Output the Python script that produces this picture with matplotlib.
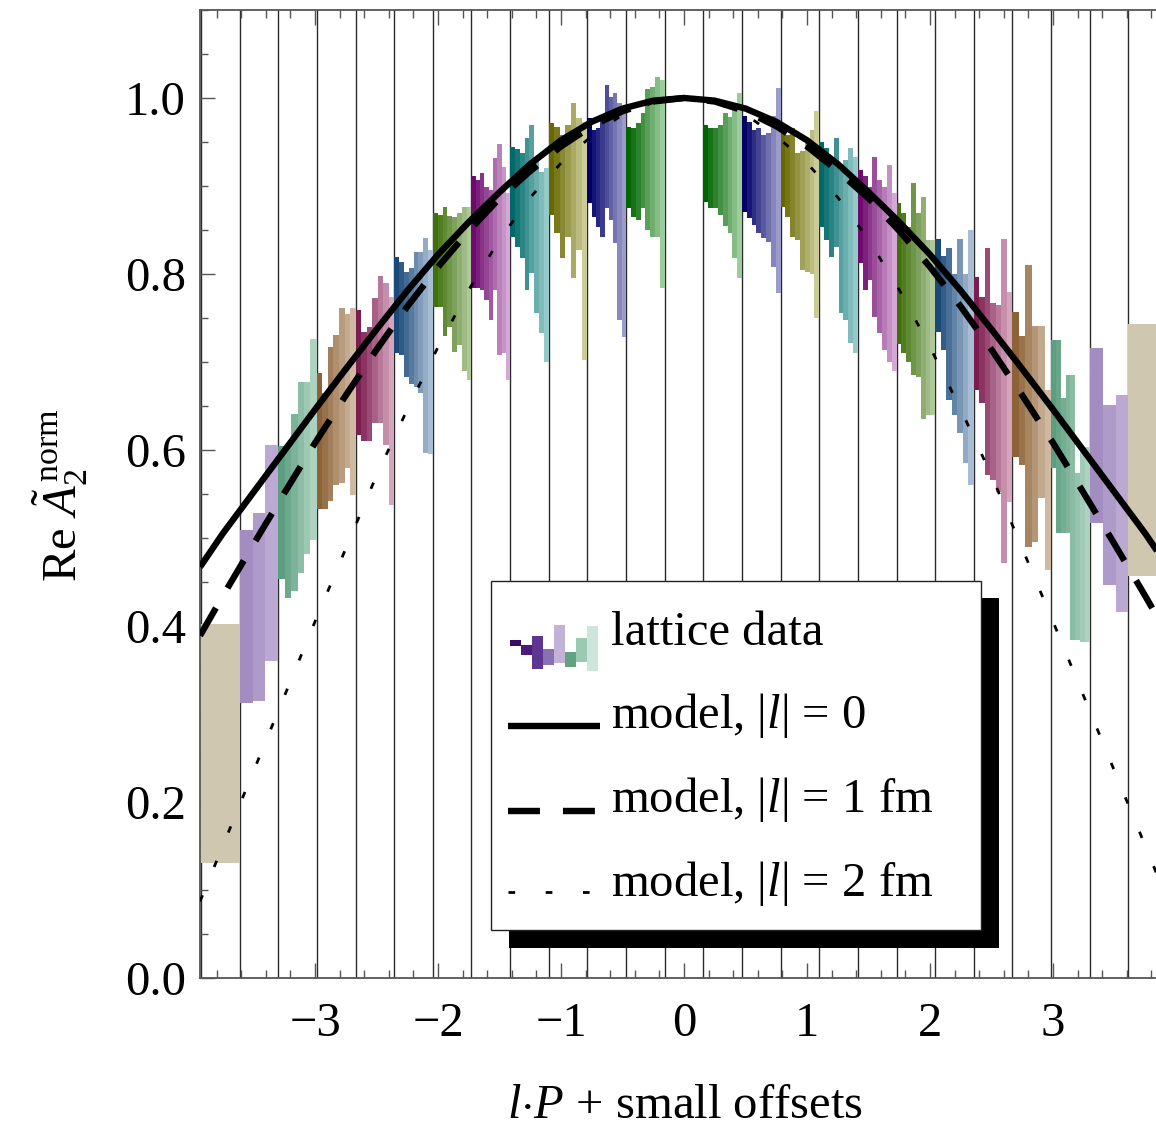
import numpy as np
import matplotlib
matplotlib.use('Agg')
import matplotlib.pyplot as plt
from matplotlib.patches import Rectangle
from matplotlib.lines import Line2D
from matplotlib.colors import to_rgb
from matplotlib.ticker import MultipleLocator
import matplotlib.transforms as mtransforms

plt.rcParams['font.family'] = ['Liberation Serif', 'DejaVu Serif']
plt.rcParams['mathtext.fontset'] = 'custom'
plt.rcParams['mathtext.rm'] = 'Liberation Serif'
plt.rcParams['mathtext.it'] = 'Liberation Serif:italic'
plt.rcParams['mathtext.bf'] = 'Liberation Serif:bold'

# ---------------- data ----------------
# lattice data: per bin (index k, bin centre k*pi/10), error-bar tops and bottoms, left to right
top_m12 = [0.402]
low_m12 = [0.131]
top_m11 = [0.509, 0.528, 0.606]
low_m11 = [0.3125, 0.315, 0.360]
top_m10 = [0.605, 0.605, 0.641, 0.677, 0.677, 0.726]
low_m10 = [0.453, 0.432, 0.440, 0.460, 0.482, 0.498]
top_m9 = [0.6875, 0.665, 0.717, 0.731, 0.761, 0.755, 0.761]
low_m9 = [0.533, 0.533, 0.542, 0.560, 0.5625, 0.580, 0.549]
top_m8 = [0.759, 0.734, 0.740, 0.773, 0.798, 0.790, 0.774]
low_m8 = [0.617, 0.610, 0.610, 0.631, 0.631, 0.606, 0.5375]
top_m7 = [0.819, 0.814, 0.802, 0.807, 0.825, 0.825, 0.841, 0.827]
low_m7 = [0.710, 0.708, 0.683, 0.675, 0.672, 0.665, 0.597, 0.595]
top_m6 = [0.869, 0.867, 0.876, 0.866, 0.865, 0.869, 0.876, 0.876]
low_m6 = [0.7625, 0.7625, 0.730, 0.740, 0.711, 0.719, 0.690, 0.680]
top_m5 = [0.911, 0.907, 0.915, 0.899, 0.895, 0.932, 0.948, 0.922, 0.892]
low_m5 = [0.784, 0.784, 0.782, 0.770, 0.748, 0.782, 0.708, 0.710, 0.680]
top_m4 = [0.944, 0.942, 0.9375, 0.955, 0.969, 0.930, 0.916, 0.920]
low_m4 = [0.842, 0.831, 0.818, 0.782, 0.801, 0.756, 0.733, 0.700]
top_m3 = [0.972, 0.967, 0.958, 0.969, 0.994, 0.977, 0.973]
low_m3 = [0.867, 0.847, 0.818, 0.842, 0.795, 0.827, 0.702]
top_m2 = [0.977, 0.964, 0.966, 0.975, 1.015, 1.001, 1.006, 0.994, 0.990]
low_m2 = [0.881, 0.865, 0.853, 0.842, 0.875, 0.861, 0.835, 0.748, 0.728]
top_m1 = [0.967, 0.966, 0.972, 0.983, 1.010, 1.0125, 1.024, 1.020]
low_m1 = [0.875, 0.865, 0.861, 0.875, 0.850, 0.842, 0.842, 0.784]
top_p1 = [0.969, 0.966, 0.966, 0.969, 0.983, 0.978, 0.994, 1.006]
low_p1 = [0.882, 0.875, 0.875, 0.867, 0.855, 0.847, 0.818, 0.795]
top_p2 = [0.979, 0.973, 0.964, 0.966, 0.958, 0.960, 0.979, 1.011]
low_p2 = [0.870, 0.864, 0.856, 0.847, 0.841, 0.836, 0.808, 0.778]
top_p3 = [0.967, 0.958, 0.966, 0.9375, 0.940, 0.949, 0.964, 0.985]
low_p3 = [0.876, 0.865, 0.842, 0.839, 0.805, 0.802, 0.800, 0.750]
top_p4 = [0.950, 0.943, 0.933, 0.955, 0.918, 0.930, 0.943, 0.933]
low_p4 = [0.853, 0.839, 0.819, 0.831, 0.756, 0.748, 0.722, 0.710]
top_p5 = [0.918, 0.911, 0.899, 0.933, 0.907, 0.899, 0.924, 0.892]
low_p5 = [0.8125, 0.782, 0.793, 0.751, 0.733, 0.714, 0.700, 0.690]
top_p6 = [0.881, 0.869, 0.853, 0.903, 0.869, 0.8875, 0.839, 0.839]
low_p6 = [0.720, 0.710, 0.700, 0.685, 0.683, 0.635, 0.640, 0.640]
top_p7 = [0.840, 0.820, 0.830, 0.800, 0.840, 0.800, 0.850]
low_p7 = [0.734, 0.714, 0.657, 0.640, 0.619, 0.585, 0.560]
top_p8 = [0.797, 0.774, 0.830, 0.767, 0.765, 0.840, 0.780]
low_p8 = [0.668, 0.653, 0.572, 0.566, 0.552, 0.472, 0.541]
top_p9 = [0.757, 0.730, 0.810, 0.741, 0.741, 0.668]
low_p9 = [0.592, 0.583, 0.490, 0.495, 0.545, 0.464]
top_p10 = [0.725, 0.725, 0.659, 0.685, 0.685, 0.574, 0.603, 0.603]
low_p10 = [0.580, 0.506, 0.506, 0.506, 0.384, 0.384, 0.382, 0.382]
top_p11 = [0.716, 0.651, 0.6625]
low_p11 = [0.517, 0.447, 0.416]
top_p12 = [0.743]
low_p12 = [0.457]

bin_k = [-12, -11, -10, -9, -8, -7, -6, -5, -4, -3, -2, -1,
         1, 2, 3, 4, 5, 6, 7, 8, 9, 10, 11, 12]
bin_tops = [top_m12, top_m11, top_m10, top_m9, top_m8, top_m7, top_m6, top_m5,
            top_m4, top_m3, top_m2, top_m1, top_p1, top_p2, top_p3, top_p4,
            top_p5, top_p6, top_p7, top_p8, top_p9, top_p10, top_p11, top_p12]
bin_lows = [low_m12, low_m11, low_m10, low_m9, low_m8, low_m7, low_m6, low_m5,
            low_m4, low_m3, low_m2, low_m1, low_p1, low_p2, low_p3, low_p4,
            low_p5, low_p6, low_p7, low_p8, low_p9, low_p10, low_p11, low_p12]

# model curves (symmetric about 0)
model_x = [-3.935, -3.75, -3.5, -3.25, -3.0, -2.75, -2.5, -2.25, -2.0, -1.75, -1.5,
           -1.25, -1.0, -0.75, -0.5, -0.25, 0.0, 0.25, 0.5, 0.75, 1.0, 1.25, 1.5,
           1.75, 2.0, 2.25, 2.5, 2.75, 3.0, 3.25, 3.5, 3.75, 3.935]
model_l0 = [0.467, 0.505, 0.552, 0.599, 0.646, 0.692, 0.737, 0.781, 0.822, 0.859, 0.893,
            0.925, 0.952, 0.973, 0.988, 0.997, 1.000, 0.997, 0.988, 0.973, 0.952, 0.925,
            0.893, 0.859, 0.822, 0.781, 0.737, 0.692, 0.646, 0.599, 0.552, 0.505, 0.467]
model_l1 = [0.389, 0.434, 0.493, 0.551, 0.608, 0.662, 0.714, 0.763, 0.808, 0.849, 0.886,
            0.917, 0.945, 0.968, 0.985, 0.996, 1.000, 0.996, 0.985, 0.968, 0.945, 0.917,
            0.886, 0.849, 0.808, 0.763, 0.714, 0.662, 0.608, 0.551, 0.493, 0.434, 0.389]
model_l2 = [0.087, 0.150, 0.235, 0.320, 0.405, 0.488, 0.571, 0.646, 0.717, 0.782, 0.839,
            0.887, 0.926, 0.957, 0.981, 0.995, 1.000, 0.995, 0.981, 0.957, 0.926, 0.887,
            0.839, 0.782, 0.717, 0.646, 0.571, 0.488, 0.405, 0.320, 0.235, 0.150, 0.087]

x_ticks = [-3, -2, -1, 0, 1, 2, 3]
y_ticks = [0.0, 0.2, 0.4, 0.6, 0.8, 1.0]
legend_labels = ['lattice data', r'model, $|l|$ = 0', r'model, $|l|$ = 1 fm',
                 r'model, $|l|$ = 2 fm']
# legend icon bars (purely decorative)
icon_tops = [0.25, 0.0, 0.45, -0.2, 1.0, -0.35, 0.35, 0.95]
icon_lows = [-0.05, -0.5, -1.2, -1.0, -0.9, -1.1, -0.85, -1.3]

# ---------------- style ----------------
bin_colors = {
    1: ('#006400', '#9ccc9c'),
    2: ('#000068', '#9c9cca'),
    3: ('#686800', '#cbcb98'),
    4: ('#006868', '#96caca'),
    5: ('#6e0a6e', '#d4a8d4'),
    6: ('#3f700c', '#aec899'),
    7: ('#1b4a78', '#a8bdd4'),
    8: ('#7c1d50', '#d4a6be'),
    9: ('#8c6236', '#cfb9a2'),
    10: ('#5c9e80', '#add2bf'),
    11: ('#a28cc0', '#bba9d4'),
    12: ('#cfc7af', '#cfc7af'),
}
FS = 35

W, H = 1156, 1130
fig = plt.figure(figsize=(W / 100, H / 100), dpi=100)
ax = fig.add_axes([200 / W, 1 - 978 / H, 956 / W, 968 / H])
ax.set_xlim(-3.935, 3.837)
ax.set_ylim(0, 1.1)

step = np.pi / 10
# vertical separators between bins
for j in range(-13, 13):
    xs = (j + 0.5) * step
    ax.axvline(xs, color='#2a2a2a', lw=1.0, zorder=1)

# lattice bars
for k, tops, lows in zip(bin_k, bin_tops, bin_lows):
    n = len(tops)
    left = (k - 0.5) * step
    w = step / n
    dark = np.array(to_rgb(bin_colors[abs(k)][0]))
    light = np.array(to_rgb(bin_colors[abs(k)][1]))
    cols = [tuple(dark + (light - dark) * (i / max(n - 1, 1))) for i in range(n)]
    xs = left + w * np.arange(n)
    ax.bar(xs, np.array(tops) - np.array(lows), bottom=lows, width=w, align='edge',
           color=cols, linewidth=0, zorder=2)

# model curves
ax.plot(model_x, model_l0, color='black', lw=4.6, solid_capstyle='butt',
        solid_joinstyle='round', zorder=4)
ax.plot(model_x, model_l1, color='black', lw=4.6, dashes=(5.0, 3.6), zorder=4)
ax.plot(model_x, model_l2, color='black', lw=2.0, dashes=(2.4, 11.0), zorder=4)

# axes styling
ax.spines['right'].set_visible(False)
for s in ['left', 'bottom', 'top']:
    ax.spines[s].set_color('#555555')
    ax.spines[s].set_linewidth(1.3)
ax.set_xticks(x_ticks)
ax.set_yticks(y_ticks)
ax.xaxis.set_minor_locator(MultipleLocator(0.2))
ax.yaxis.set_minor_locator(MultipleLocator(0.05))
ax.tick_params(axis='x', which='both', direction='in', top=True, bottom=True,
               color='#555555', width=1.0)
ax.tick_params(axis='y', which='both', direction='in', left=True, right=False,
               color='#555555', width=1.0)
ax.tick_params(which='major', length=11)
ax.tick_params(which='minor', length=6)
ax.tick_params(axis='x', labelsize=FS, pad=17)
ax.tick_params(axis='y', labelsize=FS, pad=10)
ax.set_xticklabels([('\u2212%d' % -t) if t < 0 else '%d' % t for t in x_ticks])
ax.set_yticklabels(['%.1f' % t for t in y_ticks])

fig.text(685 / W, 1 - 1106 / H, r'$l{\cdot}P$ + small offsets', fontsize=FS,
         ha='center', va='center')
fig.text(60 / W, 1 - 495 / H, r'Re $\tilde{A}_2^{\,\mathrm{norm}}$', fontsize=FS,
         ha='center', va='center', rotation=90)

# ---------------- legend (drawn manually) ----------------
pix = mtransforms.Affine2D().scale(1 / W, -1 / H).translate(0, 1) + fig.transFigure
fig.add_artist(Rectangle((509, 598), 490, 350, transform=pix, facecolor='black',
                         edgecolor='none', zorder=5))
fig.add_artist(Rectangle((491, 581), 490, 349, transform=pix, facecolor='white',
                         edgecolor='#222222', lw=1.0, zorder=6))
# icon
icon_cols = ['#3a0a6a', '#4a1a7c', '#5e3590', '#8a70b0', '#c2b2d8', '#63a183',
             '#9acab2', '#cde5da']
for i, (t, b) in enumerate(zip(icon_tops, icon_lows)):
    x0 = 510 + 11 * i
    y_top = 645 - 20 * t
    y_bot = 645 - 20 * b
    fig.add_artist(Rectangle((x0, y_top), 11, y_bot - y_top, transform=pix,
                             facecolor=icon_cols[i], edgecolor='none', zorder=7))
fig.add_artist(Line2D([508, 600], [726, 726], transform=pix, color='black', lw=4.6,
                      solid_capstyle='butt', zorder=7))
fig.add_artist(Line2D([508, 600], [811, 811], transform=pix, color='black', lw=4.6,
                      dashes=(5.0, 3.6), zorder=7))
fig.add_artist(Line2D([508, 600], [892, 892], transform=pix, color='black', lw=2.0,
                      dashes=(2.4, 11.0), zorder=7))
for lab, yy in zip(legend_labels, [633, 716, 800, 884]):
    fig.text(611 / W, 1 - yy / H, lab, fontsize=FS, ha='left', va='center', zorder=8)

fig.savefig('out.png', dpi=100)
